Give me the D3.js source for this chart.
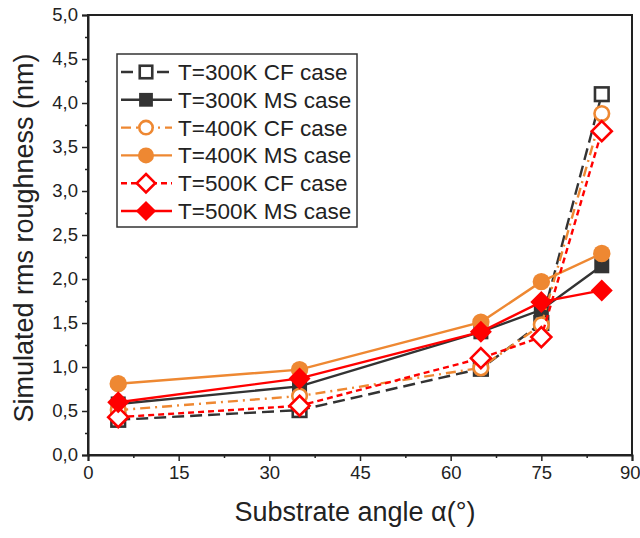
<!DOCTYPE html>
<html><head><meta charset="utf-8">
<script src="https://cdn.jsdelivr.net/npm/d3@7"></script>
<style>body{margin:0;background:#fff}svg{display:block}text{font-family:"Liberation Sans",Arial,sans-serif}</style>
</head><body><svg id="c" width="640" height="538"></svg>
<script>
const angles = [5, 35, 65, 75, 85];
const t300CF = [0.40, 0.51, 0.98, 1.50, 4.10];
const t300MS = [0.58, 0.78, 1.40, 1.65, 2.15];
const t400CF = [0.51, 0.67, 0.99, 1.48, 3.88];
const t400MS = [0.81, 0.97, 1.51, 1.97, 2.29];
const t500CF = [0.43, 0.56, 1.10, 1.34, 3.68];
const t500MS = [0.60, 0.87, 1.40, 1.74, 1.87];
const seriesNames = ["T=300K CF case","T=300K MS case","T=400K CF case","T=400K MS case","T=500K CF case","T=500K MS case"];
const xTicks = [0, 15, 30, 45, 60, 75, 90];
const yTicks = [0, 0.5, 1, 1.5, 2, 2.5, 3, 3.5, 4, 4.5, 5];

const series = [
  {name: seriesNames[0], values: t300CF, color: "#333333", dash: "12,6", shape: "square", filled: false},
  {name: seriesNames[1], values: t300MS, color: "#333333", dash: null, shape: "square", filled: true},
  {name: seriesNames[2], values: t400CF, color: "#EE8832", dash: "10,5,2,5", shape: "circle", filled: false},
  {name: seriesNames[3], values: t400MS, color: "#EE8832", dash: null, shape: "circle", filled: true},
  {name: seriesNames[4], values: t500CF, color: "#FF0000", dash: "6,4", shape: "diamond", filled: false},
  {name: seriesNames[5], values: t500MS, color: "#FF0000", dash: null, shape: "diamond", filled: true}
];

const svg = d3.select("#c");
const L = 88, R = 632, T = 15, B = 455;
const x = d3.scaleLinear().domain([0, 90]).range([L, R]);
const y = d3.scaleLinear().domain([0, 5]).range([B, T]);
const fmt = d => d3.format(".1f")(d).replace(".", ",");

// frame
svg.append("rect").attr("x", L).attr("y", T).attr("width", R - L).attr("height", B - T)
  .attr("fill", "none").attr("stroke", "#222").attr("stroke-width", 2);

// x axis
const xAx = svg.append("g").attr("transform", `translate(0,${B})`)
  .call(d3.axisBottom(x).tickValues(xTicks).tickSize(6).tickPadding(5).tickFormat(d3.format("d")));
svg.append("g").attr("transform", `translate(0,${B})`)
  .call(d3.axisBottom(x).tickValues(d3.range(7.5, 90, 15)).tickSize(3).tickFormat(""))
  .call(g => g.select(".domain").remove());
// y axis
const yAx = svg.append("g").attr("transform", `translate(${L},0)`)
  .call(d3.axisLeft(y).tickValues(yTicks).tickSize(6).tickPadding(4).tickFormat(fmt));
svg.append("g").attr("transform", `translate(${L},0)`)
  .call(d3.axisLeft(y).tickValues(d3.range(0.25, 5, 0.5)).tickSize(3).tickFormat(""))
  .call(g => g.select(".domain").remove());
svg.selectAll(".domain").attr("stroke", "#222").attr("stroke-width", 2);
svg.selectAll(".tick line").attr("stroke", "#222").attr("stroke-width", 1.5);
svg.selectAll(".tick text").attr("font-size", 18.5).attr("fill", "#222")
  .style("font-family", '"Liberation Sans",Arial,sans-serif');
// keep the last x label inside the window
xAx.selectAll(".tick text").filter(d => d === 90).attr("text-anchor", "end").attr("dx", 8);

// titles
svg.append("text").attr("x", (L + R) / 2 - 5).attr("y", 521).attr("text-anchor", "middle")
  .attr("font-size", 27).attr("fill", "#222").text("Substrate angle α(°)");
svg.append("text").attr("transform", `translate(33,${(T + B) / 2 + 3}) rotate(-90)`).attr("text-anchor", "middle")
  .attr("font-size", 27).attr("fill", "#222").text("Simulated rms roughness (nm)");

function marker(g, shape, cx, cy, color, filled, scale) {
  const s = scale || 1;
  const fill = filled ? color : "#fff";
  const sw = 2.6;
  if (shape === "square") {
    const h = (filled ? 7.5 : 6.8) * s;
    g.append("rect").attr("x", cx - h).attr("y", cy - h).attr("width", 2 * h).attr("height", 2 * h)
      .attr("fill", fill).attr("stroke", color).attr("stroke-width", filled ? 0 : sw);
  } else if (shape === "circle") {
    g.append("circle").attr("cx", cx).attr("cy", cy).attr("r", (filled ? 8.7 : 7.3) * s)
      .attr("fill", fill).attr("stroke", color).attr("stroke-width", filled ? 0 : sw);
  } else {
    const h = (filled ? 11 : 10) * s;
    g.append("path").attr("d", `M${cx},${cy - h}L${cx + h},${cy}L${cx},${cy + h}L${cx - h},${cy}Z`)
      .attr("fill", fill).attr("stroke", color).attr("stroke-width", filled ? 0 : sw);
  }
}

const line = d3.line().x((d, i) => x(angles[i])).y(d => y(d));
const plot = svg.append("g");
series.forEach(s => {
  plot.append("path").attr("d", line(s.values)).attr("fill", "none")
    .attr("stroke", s.color).attr("stroke-width", 2.4)
    .attr("stroke-dasharray", s.dash);
  s.values.forEach((v, i) => marker(plot, s.shape, x(angles[i]), y(v), s.color, s.filled));
});

// legend
const lg = svg.append("g");
lg.append("rect").attr("x", 117).attr("y", 54).attr("width", 240).attr("height", 173)
  .attr("fill", "#fff").attr("stroke", "#333").attr("stroke-width", 1.5);
series.forEach((s, i) => {
  const cy = 72 + i * 27.8;
  lg.append("line").attr("x1", 121).attr("x2", 172).attr("y1", cy).attr("y2", cy)
    .attr("stroke", s.color).attr("stroke-width", 2.4).attr("stroke-dasharray", s.dash);
  marker(lg, s.shape, 146, cy, s.color, s.filled, 0.92);
  lg.append("text").attr("x", 178).attr("y", cy + 8).attr("font-size", 22.5).attr("fill", "#222").text(s.name);
});
</script></body></html>
